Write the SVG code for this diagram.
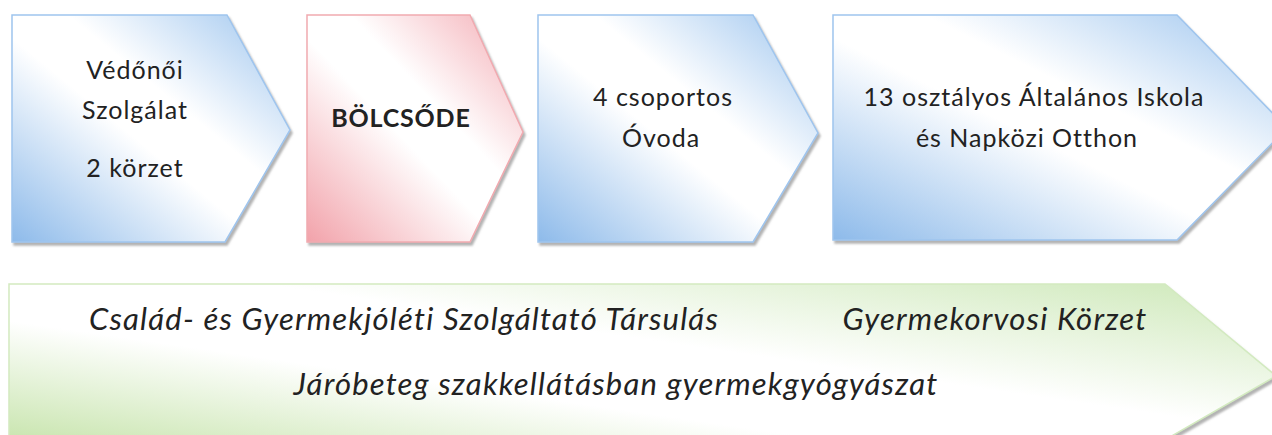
<svg xmlns="http://www.w3.org/2000/svg" width="1272" height="435" viewBox="0 0 1272 435">
<defs>
<linearGradient id="gBlue" x1="0" y1="1" x2="1" y2="0">
<stop offset="0" stop-color="#8dbaea"/>
<stop offset="0.45" stop-color="#ffffff"/>
<stop offset="0.6" stop-color="#ffffff"/>
<stop offset="1" stop-color="#9cc4ee"/>
</linearGradient>
<linearGradient id="gPink" x1="0" y1="1" x2="1" y2="0">
<stop offset="0" stop-color="#f2a2aa"/>
<stop offset="0.45" stop-color="#ffffff"/>
<stop offset="0.6" stop-color="#ffffff"/>
<stop offset="1" stop-color="#f3aab2"/>
</linearGradient>
<linearGradient id="gGreen" x1="0" y1="1" x2="1" y2="0">
<stop offset="0" stop-color="#bcdf9c"/>
<stop offset="0.4" stop-color="#ffffff"/>
<stop offset="0.6" stop-color="#ffffff"/>
<stop offset="1" stop-color="#cde8b8"/>
</linearGradient>
<filter id="sh" x="-5%" y="-5%" width="110%" height="115%">
<feDropShadow dx="2" dy="3" stdDeviation="1" flood-color="#808080" flood-opacity="0.6"/>
</filter>
</defs>
<style>
.blue{fill:url(#gBlue);stroke:#9fc5ee;stroke-width:1.5;filter:url(#sh)}
.pink{fill:url(#gPink);stroke:#f1aab0;stroke-width:1.5;filter:url(#sh)}
.green{fill:url(#gGreen);stroke:#d3eac0;stroke-width:1.5;filter:url(#sh)}
text{font-family:Lato,"Open Sans","DejaVu Sans",sans-serif;fill:#222222;text-anchor:middle}
.t{font-size:25px;letter-spacing:1px}
.b{font-size:25px;font-weight:bold;letter-spacing:0.8px}
.i{font-size:31px;font-style:italic;letter-spacing:1.2px}
</style>
<rect width="1272" height="435" fill="#ffffff"/>
<g id="node-vedonoi">
<polygon class="blue" points="12,15 227,15 290,130 225,242 12,242"/>
<text class="t" x="135" y="79">Védőnői</text>
<text class="t" x="135" y="119">Szolgálat</text>
<text class="t" x="135" y="177">2 körzet</text>
</g>
<g id="node-bolcsode">
<polygon class="pink" points="307,15 470,15 523,132 470,242 307,242"/>
<text class="b" x="401" y="127">BÖLCSŐDE</text>
</g>
<g id="node-ovoda">
<polygon class="blue" points="538,15 753,15 818,133 753,242 538,242"/>
<text class="t" x="663" y="106">4 csoportos</text>
<text class="t" x="661" y="147">Óvoda</text>
</g>
<g id="node-iskola">
<polygon class="blue" points="833,15 1177,15 1287,128 1177,240 833,240"/>
<text class="t" x="1034" y="106">13 osztályos Általános Iskola</text>
<text class="t" x="1027" y="147">és Napközi Otthon</text>
</g>
<g id="node-tarsulas">
<polygon class="green" points="9,284 1165,284 1276,376 1116,468 9,468"/>
<text class="i" x="404" y="330">Család- és Gyermekjóléti Szolgáltató Társulás</text>
<text class="i" x="995" y="330">Gyermekorvosi Körzet</text>
<text class="i" x="616" y="395">Járóbeteg szakkellátásban gyermekgyógyászat</text>
</g>
<g id="connectors"></g>
</svg>
